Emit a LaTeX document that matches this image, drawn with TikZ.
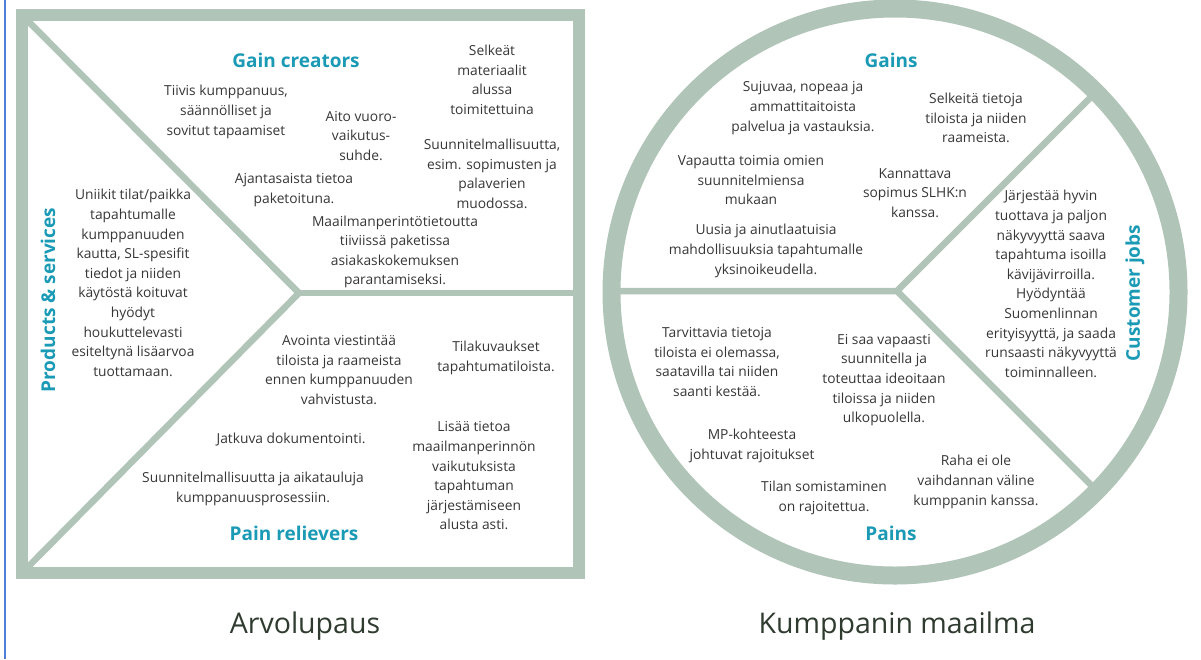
\documentclass[tikz,border=0pt]{standalone}
\usepackage{fontspec}
\setmainfont{Open Sans}
\usepackage{xcolor}
\definecolor{sage}{HTML}{B1C4B8}
\definecolor{lagoon}{HTML}{1B9AB5}
\definecolor{ink}{HTML}{363636}
\definecolor{moss}{HTML}{2F3B2F}
\definecolor{margin}{HTML}{4F7FD9}

\begin{document}
\begin{tikzpicture}[x=1pt, y=-1pt,
		frame/.style={draw=sage, line width=12pt},
		ring/.style={draw=sage, line width=18pt},
		divider/.style={draw=sage, line width=6.5pt},
		item/.style={align=center, text=ink, inner sep=0pt, font=\fontsize{13.8}{19.6}\selectfont},
		heading/.style={text=lagoon, inner sep=0pt, font=\bfseries\fontsize{19}{21}\selectfont},
		caption/.style={text=moss, inner sep=0pt, font=\fontsize{28.5}{32}\selectfont}]
		\useasboundingbox (0,0) rectangle (1201,659);
		\draw [margin, line width=1.2pt] (5,0) -- (5,659);
		%
		\begin{scope}
			\coordinate (tip) at (299,293);
			\draw [divider] (22,15) -- (tip) -- (22,573);
			\draw [divider] (tip) -- (579,293);
			\draw [frame] (22,15) rectangle (579,573);
			\node [heading] (gaincreators) at (296,60) {Gain creators};
			\node [heading] (painrelievers) at (294,533) {Pain relievers};
			\node [heading, rotate=90] (products) at (48,300) {Products \& services};
			\node [item] (tiivis) at (226,112) {Tiivis kumppanuus,\\säännölliset ja\\sovitut tapaamiset};
			\node [item] (aito) at (361,136) {Aito vuoro-\\vaikutus-\\suhde.};
			\node [item] (selkeat) at (492,80) {Selkeät\\materiaalit\\alussa\\toimitettuina};
			\node [item] (suunnitelma) at (492,174) {Suunnitelmallisuutta,\\esim. sopimusten ja\\palaverien\\muodossa.};
			\node [item] (ajantasaista) at (294,190) {Ajantasaista tietoa\\paketoituna.};
			\node [item] (perinto) at (395,252) {Maailmanperintötietoutta\\tiiviissä paketissa\\asiakaskokemuksen\\parantamiseksi.};
			\node [item] (uniikit) at (133,283) {Uniikit tilat/paikka\\tapahtumalle\\kumppanuuden\\kautta, SL-spesifit\\tiedot ja niiden\\käytöstä koituvat\\hyödyt\\houkuttelevasti\\esiteltynä lisäarvoa\\tuottamaan.};
			\node [item] (avointa) at (339,370) {Avointa viestintää\\tiloista ja raameista\\ennen kumppanuuden\\vahvistusta.};
			\node [item] (tilakuvaukset) at (496,358) {Tilakuvaukset\\tapahtumatiloista.};
			\node [item] (jatkuva) at (291,440) {Jatkuva dokumentointi.};
			\node [item] (aikataulu) at (253,489) {Suunnitelmallisuutta ja aikatauluja\\kumppanuusprosessiin.};
			\node [item] (lisaa) at (474,476) {Lisää tietoa\\maailmanperinnön\\vaikutuksista\\tapahtuman\\järjestämiseen\\alusta asti.};
			\node [caption] (arvolupaus) at (305,626) {Arvolupaus};
		\end{scope}
		%
		\begin{scope}
			\coordinate (hub) at (897,291);
			\draw [divider] (612,291) -- (hub) -- (1097,91);
			\draw [divider] (hub) -- (1097,491);
			\draw [ring] (895,292) circle (283.5pt);
			\node [heading] (gains) at (891,60) {Gains};
			\node [heading] (pains) at (891,533) {Pains};
			\node [heading, rotate=90] (jobs) at (1135,293) {Customer jobs};
			\node [item] (sujuvaa) at (803,108) {Sujuvaa, nopeaa ja\\ammattitaitoista\\palvelua ja vastauksia.};
			\node [item] (selkeita) at (976,118) {Selkeitä tietoja\\tiloista ja niiden\\raameista.};
			\node [item] (vapautta) at (751,180) {Vapautta toimia omien\\suunnitelmiensa\\mukaan};
			\node [item] (kannattava) at (915,193) {Kannattava\\sopimus SLHK:n\\kanssa.};
			\node [item] (jarjestaa) at (1051,284) {Järjestää hyvin\\tuottava ja paljon\\näkyvyyttä saava\\tapahtuma isoilla\\kävijävirroilla.\\Hyödyntää\\Suomenlinnan\\erityisyyttä, ja saada\\runsaasti näkyvyyttä\\toiminnalleen.};
			\node [item] (uusia) at (766,251) {Uusia ja ainutlaatuisia\\mahdollisuuksia tapahtumalle\\yksinoikeudella.};
			\node [item] (tarvittavia) at (717,362) {Tarvittavia tietoja\\tiloista ei olemassa,\\saatavilla tai niiden\\saanti kestää.};
			\node [item] (eisaa) at (884,380) {Ei saa vapaasti\\suunnitella ja\\toteuttaa ideoitaan\\tiloissa ja niiden\\ulkopuolella.};
			\node [item] (mpkohde) at (752,446) {MP-kohteesta\\johtuvat rajoitukset};
			\node [item] (somistus) at (824,498) {Tilan somistaminen\\on rajoitettua.};
			\node [item] (raha) at (976,482) {Raha ei ole\\vaihdannan väline\\kumppanin kanssa.};
			\node [caption] (maailma) at (897,626) {Kumppanin maailma};
		\end{scope}
	\end{tikzpicture}
\end{document}
